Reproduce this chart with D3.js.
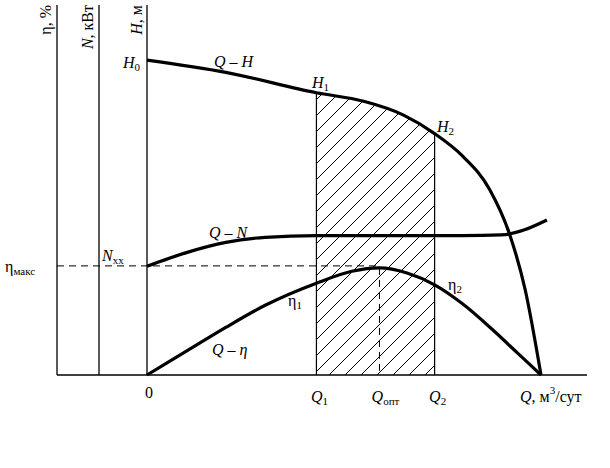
<!DOCTYPE html>
<html><head><meta charset="utf-8">
<script src="https://cdn.jsdelivr.net/npm/d3@7"></script>
<style>body{margin:0;background:#fff}</style>
</head><body><svg id="c" width="610" height="468"></svg>
<script>
// Q as % of max flow, values as % of drawn height
var qhQ = [0, 20, 43, 55, 65, 73, 80, 87, 92, 96, 100];
var qhH = [92.6, 89, 83, 80.5, 76.5, 71, 64.5, 54.5, 41.5, 25, 0];
var qnQ = [0, 10, 20, 30, 43, 60, 80, 90, 96, 101.5];
var qnN = [32, 36, 39, 40.5, 41, 41, 41, 41.2, 42.8, 45.6];
var qeQ = [0, 10, 20, 30, 43, 52, 59, 66, 73, 80, 88, 94, 100];
var qeE = [0, 7, 14, 20.5, 27, 30.5, 31.5, 30, 26.5, 21, 13, 6.5, 0];
var marks = {Q1: 43, Qopt: 59, Q2: 73};

var svg = d3.select('#c').attr('font-family', "'Liberation Serif', 'DejaVu Serif', 'Times New Roman', serif").attr('font-size', 16);
var x = d3.scaleLinear().domain([0, 100]).range([147, 541]);
var y = d3.scaleLinear().domain([0, 100]).range([375, 35]);
var line = d3.line().x(function (d) { return x(d[0]); }).y(function (d) { return y(d[1]); }).curve(d3.curveMonotoneX);
var H = d3.zip(qhQ, qhH), N = d3.zip(qnQ, qnN), E = d3.zip(qeQ, qeE);

// hatched region under Q-H between Q1 and Q2
var defs = svg.append('defs');
defs.append('pattern').attr('id', 'hatch').attr('width', 16).attr('height', 16)
  .attr('patternUnits', 'userSpaceOnUse')
  .append('path').attr('d', 'M-4,4 L4,-4 M0,16 L16,0 M12,20 L20,12').attr('stroke', '#000').attr('stroke-width', 1);
var hq = d3.range(marks.Q1, marks.Q2 + 0.01, 0.5);
var hcurve = d3.scaleLinear().domain(qhQ).range(qhH);
var area = d3.area().x(function (d) { return x(d); }).y0(y(0)).y1(function (d) { return y(hcurve(d)); });
svg.append('path').attr('d', area(hq)).attr('fill', 'url(#hatch)');
[marks.Q1, marks.Q2].forEach(function (q) {
  svg.append('line').attr('x1', x(q)).attr('x2', x(q)).attr('y1', y(0)).attr('y2', y(hcurve(q))).attr('stroke', '#000').attr('stroke-width', 1.2);
});

// axes
[57, 99, 147].forEach(function (px) {
  svg.append('line').attr('x1', px).attr('x2', px).attr('y1', 5).attr('y2', 375).attr('stroke', '#000').attr('stroke-width', 1.3);
});
svg.append('line').attr('x1', 57).attr('x2', 587).attr('y1', 375).attr('y2', 375).attr('stroke', '#000').attr('stroke-width', 1.3);

// dashed guides
var emax = d3.max(qeE);
svg.append('line').attr('x1', 57).attr('x2', x(marks.Qopt)).attr('y1', y(emax) - 2).attr('y2', y(emax) - 2)
  .attr('stroke', '#000').attr('stroke-dasharray', '7,5');
svg.append('line').attr('x1', x(marks.Qopt)).attr('x2', x(marks.Qopt)).attr('y1', y(emax)).attr('y2', y(0))
  .attr('stroke', '#000').attr('stroke-dasharray', '7,5');

[H, N, E].forEach(function (d) {
  svg.append('path').attr('d', line(d)).attr('fill', 'none').attr('stroke', '#000').attr('stroke-width', 3.2);
});

function txt(px, py, s, anchor) {
  return svg.append('text').attr('x', px).attr('y', py).attr('text-anchor', anchor || 'start').html(s);
}
function vtxt(px, py, s) {
  svg.append('text').attr('transform', 'translate(' + px + ',' + py + ') rotate(-90)').attr('text-anchor', 'end').html(s);
}
vtxt(51, 5, 'η, %');
vtxt(93, 5, '<tspan font-style="italic">N</tspan>, кВт');
vtxt(142, 5, '<tspan font-style="italic">H</tspan>, м');

var it = 'font-style="italic"';
txt(123, 68, '<tspan ' + it + '>H</tspan><tspan font-size="11" dy="3">0</tspan>');
txt(214, 67, '<tspan ' + it + '>Q – H</tspan>');
txt(312, 88, '<tspan ' + it + '>H</tspan><tspan font-size="11" dy="3">1</tspan>');
txt(437, 132, '<tspan ' + it + '>H</tspan><tspan font-size="11" dy="3">2</tspan>');
txt(209, 238, '<tspan ' + it + '>Q – N</tspan>');
txt(102, 261, '<tspan ' + it + '>N</tspan><tspan font-size="11" dy="3">хх</tspan>');
txt(5, 272, 'η<tspan font-size="11" dy="3">макс</tspan>');
txt(288, 306, 'η<tspan font-size="11" dy="3">1</tspan>');
txt(448, 290, 'η<tspan font-size="11" dy="3">2</tspan>');
txt(212, 355, '<tspan ' + it + '>Q – η</tspan>');

txt(x(0) + 2, 398, '0', 'middle');
txt(x(marks.Q1) + 3, 402, '<tspan ' + it + '>Q</tspan><tspan font-size="11" dy="3">1</tspan>', 'middle');
txt(x(marks.Qopt) + 6, 402, '<tspan ' + it + '>Q</tspan><tspan font-size="11" dy="3">опт</tspan>', 'middle');
txt(x(marks.Q2) + 3, 402, '<tspan ' + it + '>Q</tspan><tspan font-size="11" dy="3">2</tspan>', 'middle');
txt(520, 402, '<tspan ' + it + '>Q</tspan>, м<tspan font-size="11" dy="-8">3</tspan><tspan dy="8">/сут</tspan>');
</script></body></html>
